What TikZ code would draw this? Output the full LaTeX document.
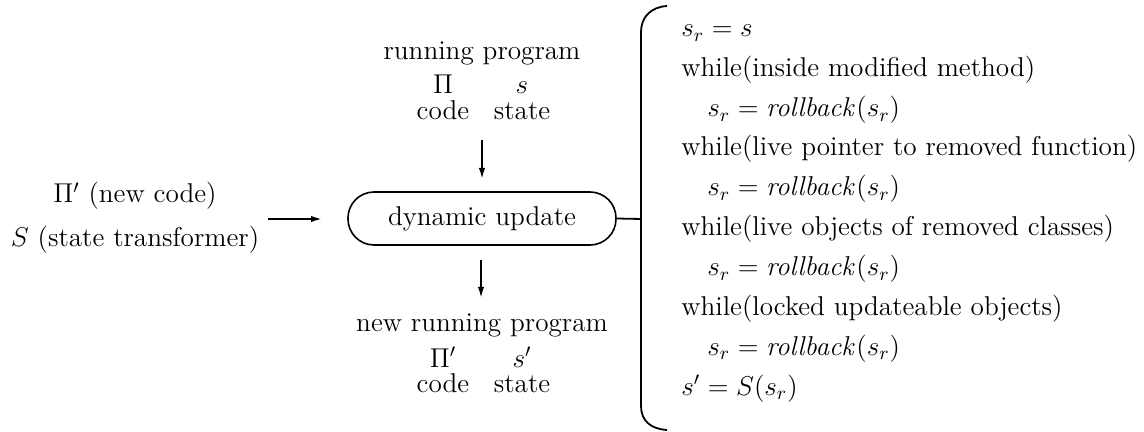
\RequirePackage{fix-cm}
\documentclass[tikz,border=0pt]{standalone}
\usetikzlibrary{arrows.meta}
\DeclareMathSizes{13.6}{13.6}{9.5}{6.8}
\begin{document}
\begin{tikzpicture}[x=0.5pt,y=-0.5pt,
  font=\fontsize{13.6}{16}\selectfont,
  txt/.style={inner sep=0pt,anchor=base},
  ltxt/.style={inner sep=0pt,anchor=base west},
  conn/.style={line width=0.9pt},
  arr/.style={line width=0.9pt,-{Latex[length=5.5pt,width=3.2pt]}},
  upd/.style={draw,line width=0.8pt,rounded corners=13pt,minimum width=134pt,minimum height=26.5pt,inner sep=0pt}]
\useasboundingbox (0,0) rectangle (1144,432);
% left input
\node[txt] (newcode) at (135,203) {$\Pi'$ (new code)};
\node[txt] (strans) at (135,247) {$S$ (state transformer)};
% top
\node[txt] (rp) at (482,60) {running program};
\node[txt] (pi) at (443,94) {$\Pi$};
\node[txt] (s) at (522,94) {$s$};
\node[txt] (code1) at (443,120) {code};
\node[txt] (state1) at (522,120) {state};
% center
\node[upd] (du) at (482,218.5) {dynamic update};
% bottom
\node[txt] (nrp) at (482,331) {new running program};
\node[txt] (pip) at (443,367) {$\Pi'$};
\node[txt] (sp) at (522,367) {$s'$};
\node[txt] (code2) at (443,392) {code};
\node[txt] (state2) at (522,392) {state};
% arrows
\coordinate (la0) at (268,219);
\coordinate (la1) at (322,219);
\coordinate (ta0) at (482,140);
\coordinate (ta1) at (482,179);
\coordinate (ba0) at (481,260);
\coordinate (ba1) at (481,298);
\coordinate (bm) at (641,219);
\draw[arr] (la0) -- (la1);
\draw[arr] (ta0) -- (ta1);
\draw[arr] (ba0) -- (ba1);
\draw[conn] (du.east) -- (bm);
% brace
\draw[conn] (667,6) .. controls (651,7) and (641,17) .. (641,32) -- (641,406)
  .. controls (641,421) and (651,429) .. (667,430);
% right column
\node[ltxt] (l1) at (681,37) {$s_r = s$};
\node[ltxt] (l2) at (681,77) {while(inside modified method)};
\node[ltxt] (l3) at (707,117) {$s_r = \mathit{rollback}(s_r)$};
\node[ltxt] (l4) at (681,156) {while(live pointer to removed function)};
\node[ltxt] (l5) at (707,196) {$s_r = \mathit{rollback}(s_r)$};
\node[ltxt] (l6) at (681,236) {while(live objects of removed classes)};
\node[ltxt] (l7) at (707,276) {$s_r = \mathit{rollback}(s_r)$};
\node[ltxt] (l8) at (681,315) {while(locked updateable objects)};
\node[ltxt] (l9) at (707,355) {$s_r = \mathit{rollback}(s_r)$};
\node[ltxt] (l10) at (681,395) {$s' = S(s_r)$};
\end{tikzpicture}
\end{document}
